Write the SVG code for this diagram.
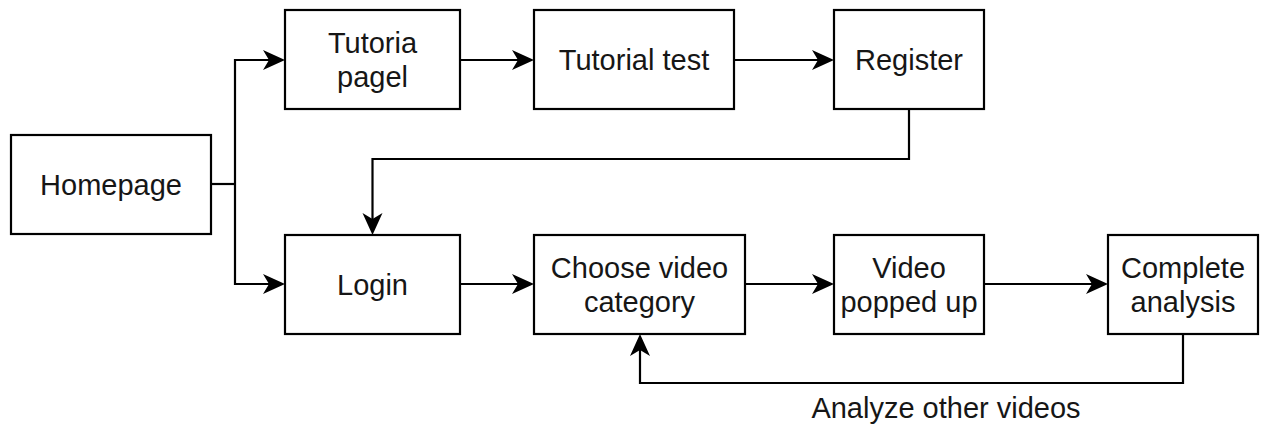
<svg xmlns="http://www.w3.org/2000/svg" width="1265" height="432" viewBox="0 0 1265 432">
  <style>
    .box { fill: #ffffff; stroke: #000000; stroke-width: 2.2; }
    .lbl { font-family: "Liberation Sans", Arial, sans-serif; font-size: 29px; fill: #161616; text-anchor: middle; }
    .wire { fill: none; stroke: #000000; stroke-width: 2.2; }
  </style>
  <defs>
    <marker id="arrow" viewBox="-23 -11 24 22" refX="-6" refY="0" markerWidth="24" markerHeight="22" markerUnits="userSpaceOnUse" orient="auto">
      <path d="M 0 0 L -22 -10 L -16 0 L -22 10 Z" fill="#000000"/>
    </marker>
  </defs>
  <rect width="1265" height="432" fill="#ffffff"/>

  <!-- connectors -->
  <g id="connectors">
    <path class="wire" d="M 211 184 L 235 184"/>
    <path class="wire" d="M 235 184 L 235 60 L 279 60" marker-end="url(#arrow)"/>
    <path class="wire" d="M 235 184 L 235 284 L 279 284" marker-end="url(#arrow)"/>
    <path class="wire" d="M 460 60 L 528 60" marker-end="url(#arrow)"/>
    <path class="wire" d="M 734 60 L 828 60" marker-end="url(#arrow)"/>
    <path class="wire" d="M 909 109 L 909 159 L 372.5 159 L 372.5 229" marker-end="url(#arrow)"/>
    <path class="wire" d="M 460 284 L 528 284" marker-end="url(#arrow)"/>
    <path class="wire" d="M 745 284 L 828 284" marker-end="url(#arrow)"/>
    <path class="wire" d="M 984 284 L 1102 284" marker-end="url(#arrow)"/>
    <path class="wire" d="M 1183 334 L 1183 383 L 640 383 L 640 340" marker-end="url(#arrow)"/>
    <text class="lbl" x="946" y="418">Analyze other videos</text>
  </g>

  <!-- nodes -->
  <g id="homepage">
    <rect class="box" x="11" y="135" width="200" height="99"/>
    <text class="lbl" x="111" y="195">Homepage</text>
  </g>
  <g id="tutorial-page">
    <rect class="box" x="285" y="10" width="175" height="99"/>
    <text class="lbl" x="372.5" y="53">Tutoria</text>
    <text class="lbl" x="372.5" y="87">pagel</text>
  </g>
  <g id="tutorial-test">
    <rect class="box" x="534" y="10" width="200" height="99"/>
    <text class="lbl" x="634" y="70">Tutorial test</text>
  </g>
  <g id="register">
    <rect class="box" x="834" y="10" width="150" height="99"/>
    <text class="lbl" x="909" y="70">Register</text>
  </g>
  <g id="login">
    <rect class="box" x="285" y="235" width="175" height="99"/>
    <text class="lbl" x="372.5" y="295">Login</text>
  </g>
  <g id="choose-category">
    <rect class="box" x="534" y="235" width="211" height="99"/>
    <text class="lbl" x="639.5" y="278">Choose video</text>
    <text class="lbl" x="639.5" y="312">category</text>
  </g>
  <g id="video-popped">
    <rect class="box" x="834" y="235" width="150" height="99"/>
    <text class="lbl" x="909" y="278">Video</text>
    <text class="lbl" x="909" y="312">popped up</text>
  </g>
  <g id="complete-analysis">
    <rect class="box" x="1108" y="235" width="150" height="99"/>
    <text class="lbl" x="1183" y="278">Complete</text>
    <text class="lbl" x="1183" y="312">analysis</text>
  </g>
</svg>
